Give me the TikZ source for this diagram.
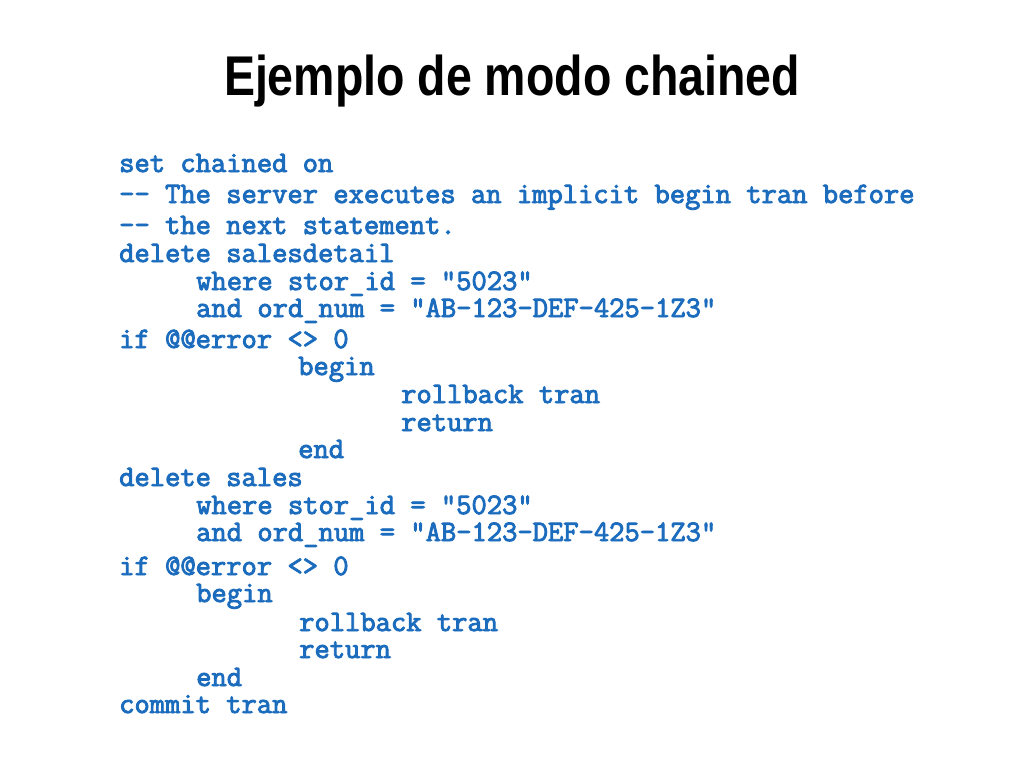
\documentclass[tikz,border=0pt]{standalone}
\usepackage{fontspec}
\newfontfamily\titlefont[FakeStretch=0.83]{Liberation Sans}
\newfontfamily\codefont[FakeBold=3]{Latin Modern Mono}
\definecolor{codeblue}{RGB}{28,108,190}
\begin{document}
\begin{tikzpicture}[x=1pt,y=-1pt,
  code/.style={anchor=base west,inner sep=0pt,text=codeblue,font=\codefont\fontsize{29.7}{32}\selectfont},
  ttl/.style={anchor=base,inner sep=0pt,font=\titlefont\bfseries\fontsize{56}{60}\selectfont}]
\useasboundingbox[fill=white] (0,0) rectangle (1024,768);
\node[ttl] (title) at (512,95) {Ejemplo de modo chained};
\node[code] (l1) at (119,172) {set chained on};
\node[code] (l2) at (119,203) {-- The server executes an implicit begin tran before};
\node[code] (l3) at (119,234) {-- the next statement.};
\node[code] (l4) at (119,262) {delete salesdetail};
\node[code] (l5) at (196,290) {where stor\_id = "5023"};
\node[code] (l6) at (196,317) {and ord\_num = "AB-123-DEF-425-1Z3"};
\node[code] (l7) at (119,348) {if @@error <> 0};
\node[code] (l8) at (298,375) {begin};
\node[code] (l9) at (401,403) {rollback tran};
\node[code] (l10) at (401,431) {return};
\node[code] (l11) at (298,458) {end};
\node[code] (l12) at (119,486) {delete sales};
\node[code] (l13) at (196,514) {where stor\_id = "5023"};
\node[code] (l14) at (196,541) {and ord\_num = "AB-123-DEF-425-1Z3"};
\node[code] (l15) at (119,575) {if @@error <> 0};
\node[code] (l16) at (196,602) {begin};
\node[code] (l17) at (299,631) {rollback tran};
\node[code] (l18) at (299,658) {return};
\node[code] (l19) at (196,686) {end};
\node[code] (l20) at (119,713) {commit tran};
\end{tikzpicture}
\end{document}
